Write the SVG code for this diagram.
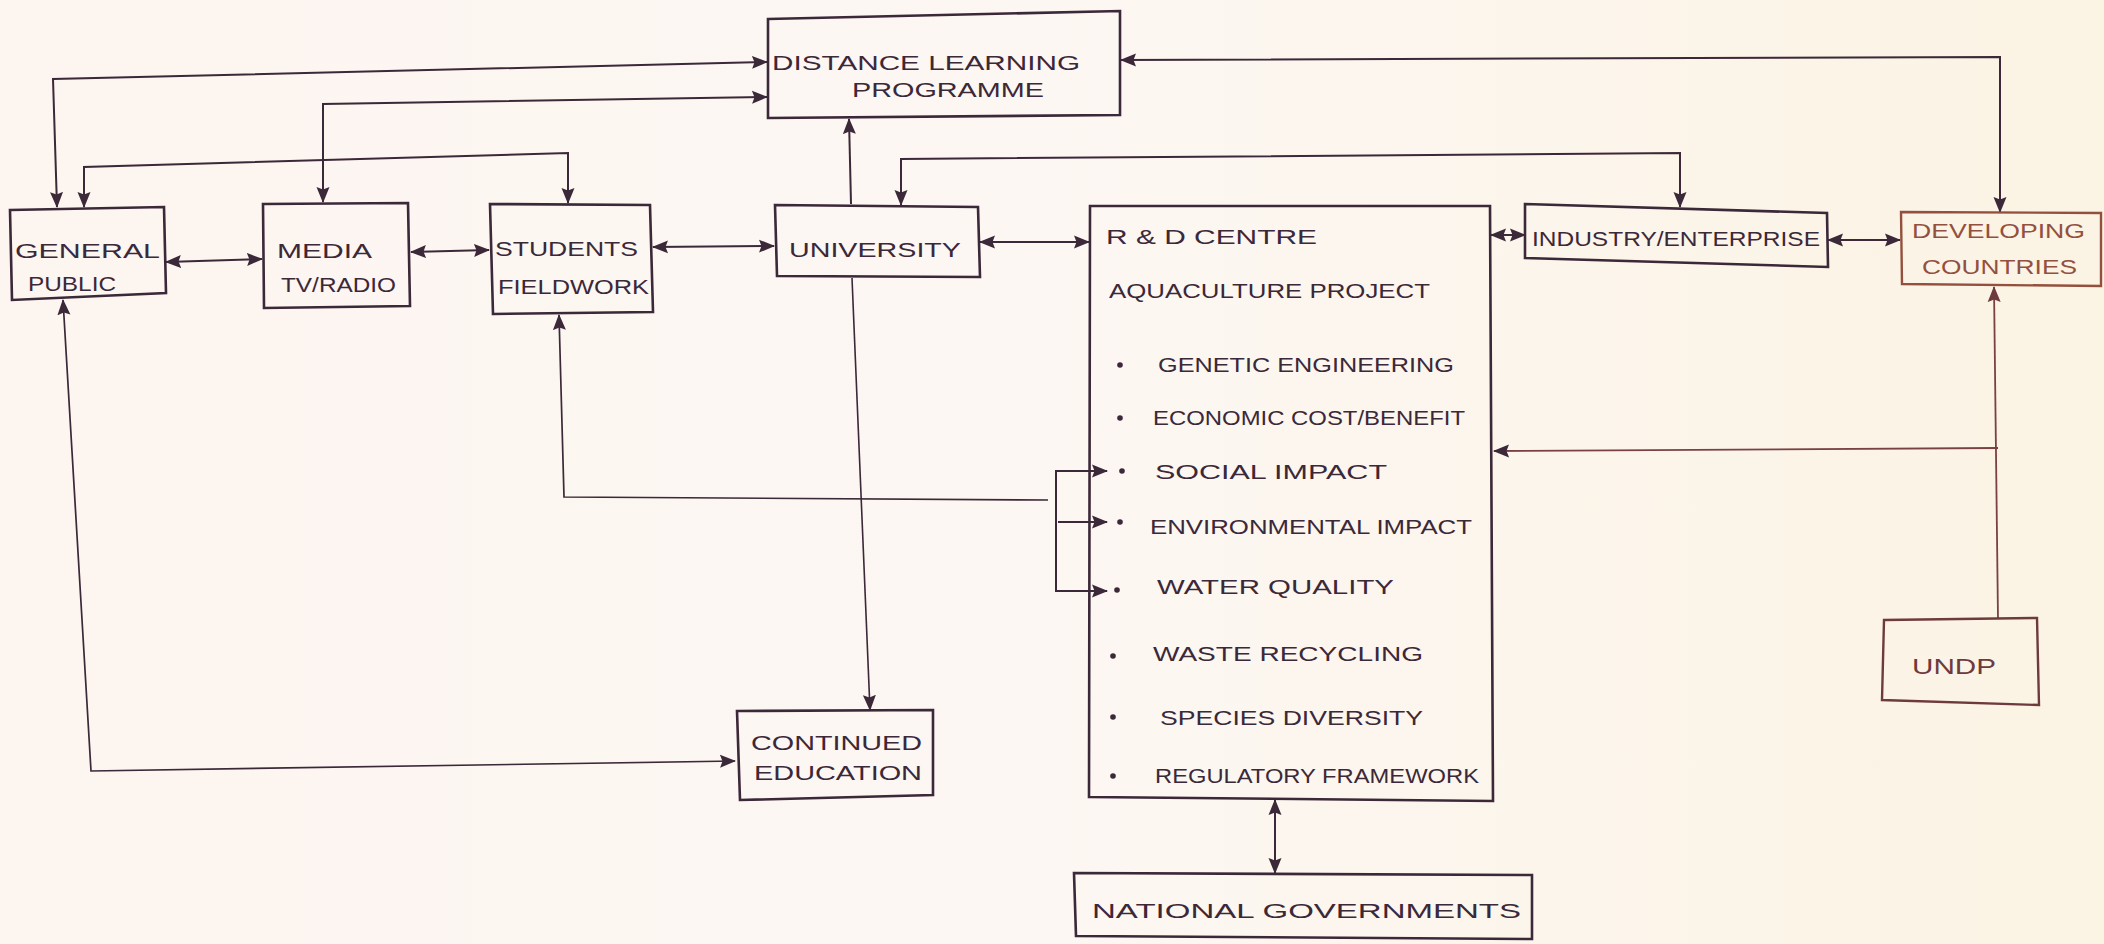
<svg xmlns="http://www.w3.org/2000/svg" width="2104" height="944" viewBox="0 0 2104 944">
<defs>
<linearGradient id="bg" x1="0" y1="0" x2="1" y2="0">
<stop offset="0" stop-color="#fcf5f0"/>
<stop offset="0.5" stop-color="#fdf7f3"/>
<stop offset="1" stop-color="#fbf3e3"/>
</linearGradient>
<marker id="ah" viewBox="0 0 16 14" refX="15" refY="7" markerWidth="16" markerHeight="14" markerUnits="userSpaceOnUse" orient="auto-start-reverse">
<path d="M0,0.5 L16,7 L0,13.5 L2.5,7 Z" fill="#3b2838"/>
</marker>
<marker id="ahr" viewBox="0 0 16 14" refX="15" refY="7" markerWidth="16" markerHeight="14" markerUnits="userSpaceOnUse" orient="auto-start-reverse">
<path d="M0,0.5 L16,7 L0,13.5 L2.5,7 Z" fill="#6e3a3e"/>
</marker>
<style>
.box{fill:none;stroke:#3b2838;stroke-width:2.6;stroke-linejoin:miter}
.boxr{fill:none;stroke:#94503e;stroke-width:2.4}
.boxu{fill:none;stroke:#6e3a3e;stroke-width:2.4}
.t{font-family:"Liberation Sans",Arial,sans-serif;font-size:21px;fill:#3b2838}
.tr{font-family:"Liberation Sans",Arial,sans-serif;font-size:20px;fill:#94503e}
.tu{font-family:"Liberation Sans",Arial,sans-serif;font-size:22px;fill:#6e3a3e}
.c{fill:none;stroke:#3b2838;stroke-width:2}
.cu{fill:none;stroke:#7a4044;stroke-width:1.8}
.bul{fill:#3b2838}
</style>
</defs>
<rect x="0" y="0" width="2104" height="944" fill="url(#bg)"/>

<g id="connectors">
<path class="c" d="M57,207 L53,79 L767,62" marker-start="url(#ah)" marker-end="url(#ah)"/>
<path class="c" d="M323,202 L323,104 L767,97" marker-start="url(#ah)" marker-end="url(#ah)"/>
<path class="c" d="M84,207 L84,167 L568,153 L568,203" marker-start="url(#ah)" marker-end="url(#ah)"/>
<path class="c" d="M851,204 L849,119" marker-end="url(#ah)"/>
<path class="c" d="M901,205 L901,159 L1680,153 L1680,207" marker-start="url(#ah)" marker-end="url(#ah)"/>
<path class="c" d="M1121,60 L2000,57 L2000,212" marker-start="url(#ah)" marker-end="url(#ah)"/>
<path class="c" d="M166,262 L262,259" marker-start="url(#ah)" marker-end="url(#ah)"/>
<path class="c" d="M411,252 L489,250" marker-start="url(#ah)" marker-end="url(#ah)"/>
<path class="c" d="M653,247 L774,246" marker-start="url(#ah)" marker-end="url(#ah)"/>
<path class="c" d="M980,242 L1089,242" marker-start="url(#ah)" marker-end="url(#ah)"/>
<path class="c" d="M1491,235 L1525,235" marker-start="url(#ah)" marker-end="url(#ah)"/>
<path class="c" d="M1828,240 L1900,240" marker-start="url(#ah)" marker-end="url(#ah)"/>
<path class="cu" d="M1998,619 L1994,287" marker-end="url(#ahr)"/>
<path class="cu" d="M1998,448 L1494,451" marker-end="url(#ah)"/>
<path class="c" d="M852,278 L870,710" style="stroke-width:1.6" marker-end="url(#ah)"/>
<path class="c" d="M63,300 L91,771 L735,761" style="stroke-width:1.7" marker-start="url(#ah)" marker-end="url(#ah)"/>
<path class="c" d="M559,315 L564,497 L1048,500" style="stroke-width:1.7" marker-start="url(#ah)"/>
<path class="c" d="M1056,470 L1056,592"/>
<path class="c" d="M1056,471 L1107,471" marker-end="url(#ah)"/>
<path class="c" d="M1058,522 L1107,522" marker-end="url(#ah)"/>
<path class="c" d="M1056,591 L1107,591" marker-end="url(#ah)"/>
<path class="c" d="M1275,800 L1275,873" marker-start="url(#ah)" marker-end="url(#ah)"/>
</g>

<g id="distance-learning">
<path class="box" d="M768,19 L1120,11 L1120,115 L768,118 Z"/>
<text class="t" x="772" y="70" textLength="308" lengthAdjust="spacingAndGlyphs">DISTANCE LEARNING</text>
<text class="t" x="852" y="97" textLength="192" lengthAdjust="spacingAndGlyphs">PROGRAMME</text>
</g>

<g id="general-public">
<path class="box" d="M10,210 L164,207 L166,293 L12,300 Z"/>
<text class="t" x="15" y="258" textLength="145" lengthAdjust="spacingAndGlyphs">GENERAL</text>
<text class="t" x="28" y="291" textLength="88" lengthAdjust="spacingAndGlyphs">PUBLIC</text>
</g>

<g id="media">
<path class="box" d="M263,204 L408,203 L410,306 L264,308 Z"/>
<text class="t" x="277" y="258" textLength="95" lengthAdjust="spacingAndGlyphs">MEDIA</text>
<text class="t" x="281" y="292" textLength="115" lengthAdjust="spacingAndGlyphs">TV/RADIO</text>
</g>

<g id="students">
<path class="box" d="M490,204 L650,205 L653,312 L493,314 Z"/>
<text class="t" x="495" y="256" textLength="143" lengthAdjust="spacingAndGlyphs">STUDENTS</text>
<text class="t" x="498" y="294" textLength="151" lengthAdjust="spacingAndGlyphs">FIELDWORK</text>
</g>

<g id="university">
<path class="box" d="M775,205 L978,207 L980,277 L777,276 Z"/>
<text class="t" x="789" y="257" textLength="172" lengthAdjust="spacingAndGlyphs">UNIVERSITY</text>
</g>

<g id="rd-centre">
<path class="box" d="M1090,206 L1490,206 L1493,801 L1089,797 Z"/>
<text class="t" x="1106" y="244" textLength="211" lengthAdjust="spacingAndGlyphs">R &amp; D CENTRE</text>
<text class="t" x="1109" y="298" textLength="321" lengthAdjust="spacingAndGlyphs">AQUACULTURE PROJECT</text>
<circle class="bul" cx="1120" cy="365" r="2.8"/>
<text class="t" x="1158" y="372" textLength="296" lengthAdjust="spacingAndGlyphs">GENETIC ENGINEERING</text>
<circle class="bul" cx="1120" cy="418" r="2.8"/>
<text class="t" x="1153" y="425" textLength="312" lengthAdjust="spacingAndGlyphs">ECONOMIC COST/BENEFIT</text>
<circle class="bul" cx="1122" cy="471" r="2.8"/>
<text class="t" x="1155" y="479" textLength="232" lengthAdjust="spacingAndGlyphs">SOCIAL IMPACT</text>
<circle class="bul" cx="1120" cy="522" r="2.8"/>
<text class="t" x="1150" y="534" textLength="322" lengthAdjust="spacingAndGlyphs">ENVIRONMENTAL IMPACT</text>
<circle class="bul" cx="1117" cy="590" r="2.8"/>
<text class="t" x="1157" y="594" textLength="237" lengthAdjust="spacingAndGlyphs">WATER QUALITY</text>
<circle class="bul" cx="1113" cy="656" r="2.8"/>
<text class="t" x="1153" y="661" textLength="270" lengthAdjust="spacingAndGlyphs">WASTE RECYCLING</text>
<circle class="bul" cx="1113" cy="717" r="2.8"/>
<text class="t" x="1160" y="725" textLength="263" lengthAdjust="spacingAndGlyphs">SPECIES DIVERSITY</text>
<circle class="bul" cx="1113" cy="776" r="2.8"/>
<text class="t" x="1155" y="783" textLength="324" lengthAdjust="spacingAndGlyphs">REGULATORY FRAMEWORK</text>
</g>

<g id="industry">
<path class="box" d="M1525,204 L1827,213 L1828,267 L1525,258 Z"/>
<text class="t" x="1532" y="246" textLength="288" lengthAdjust="spacingAndGlyphs">INDUSTRY/ENTERPRISE</text>
</g>

<g id="developing-countries">
<path class="boxr" d="M1901,212 L2101,213 L2101,286 L1902,284 Z"/>
<text class="tr" x="1912" y="238" textLength="173" lengthAdjust="spacingAndGlyphs">DEVELOPING</text>
<text class="tr" x="1922" y="274" textLength="155" lengthAdjust="spacingAndGlyphs">COUNTRIES</text>
</g>

<g id="undp">
<path class="boxu" d="M1884,620 L2037,618 L2039,705 L1882,700 Z"/>
<text class="tu" x="1912" y="674" textLength="84" lengthAdjust="spacingAndGlyphs">UNDP</text>
</g>

<g id="continued-education">
<path class="box" d="M737,711 L933,710 L933,795 L740,800 Z"/>
<text class="t" x="751" y="750" textLength="171" lengthAdjust="spacingAndGlyphs">CONTINUED</text>
<text class="t" x="754" y="780" textLength="168" lengthAdjust="spacingAndGlyphs">EDUCATION</text>
</g>

<g id="national-governments">
<path class="box" d="M1074,873 L1532,875 L1532,939 L1076,936 Z"/>
<text class="t" x="1092" y="918" textLength="429" lengthAdjust="spacingAndGlyphs">NATIONAL GOVERNMENTS</text>
</g>
</svg>
